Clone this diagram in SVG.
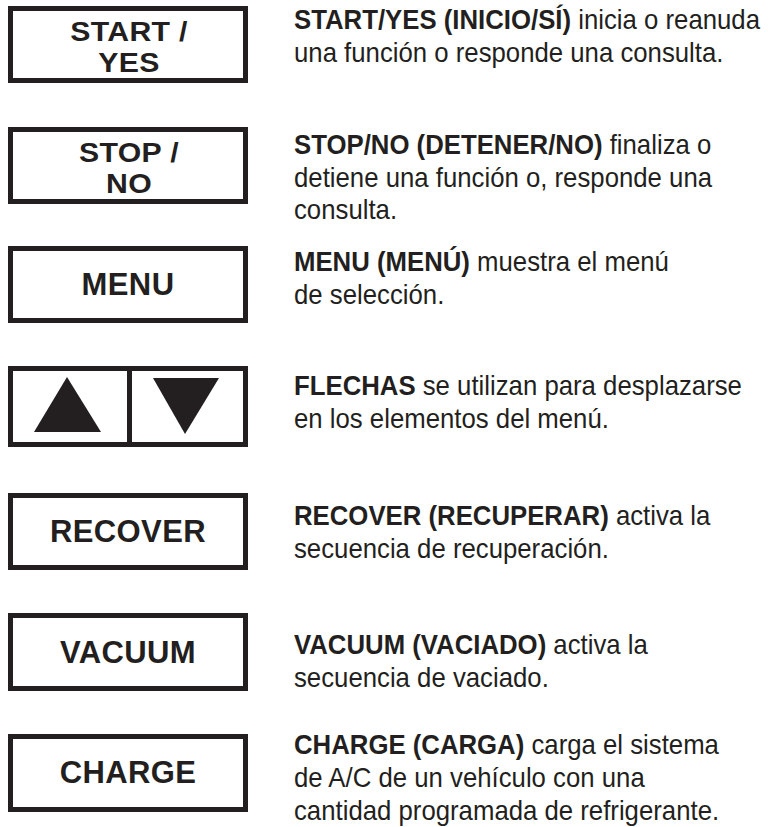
<svg xmlns="http://www.w3.org/2000/svg" width="776" height="827" viewBox="0 0 776 827">
<style>
.box{fill:#fff;stroke:#231f20;stroke-width:5}
.bt{font-family:"Liberation Sans",Arial,sans-serif;font-weight:bold;font-size:31px;letter-spacing:0.4px;fill:#231f20;text-anchor:middle}
.bt2{font-size:27px;letter-spacing:0.3px}
.d{font-family:"Liberation Sans",Arial,sans-serif;font-size:28px;fill:#231f20}
.b{font-weight:bold}
.tri{fill:#231f20}
</style>
<rect width="776" height="827" fill="#fff"/>
<g id="start">
<rect class="box" x="10.5" y="8.5" width="235" height="72"/>
<g transform="translate(129,0) scale(1.12,1)">
<text class="bt bt2" x="0" y="41">START /</text>
<text class="bt bt2" x="0" y="72">YES</text>
</g>
</g>
<g id="stop">
<rect class="box" x="10.5" y="129.5" width="235" height="72"/>
<g transform="translate(129,0) scale(1.12,1)">
<text class="bt bt2" x="0" y="162">STOP /</text>
<text class="bt bt2" x="0" y="193">NO</text>
</g>
</g>
<g id="menu">
<rect class="box" x="10.5" y="248.5" width="235" height="72"/>
<text class="bt" x="128" y="295">MENU</text>
</g>
<g id="arrows">
<rect class="box" x="10.5" y="368.5" width="235" height="76"/>
<line x1="129.5" y1="368" x2="129.5" y2="445" stroke="#231f20" stroke-width="5"/>
<polygon class="tri" points="67,377 34,432 101,432"/>
<polygon class="tri" points="153,378 219,378 185,434"/>
</g>
<g id="recover">
<rect class="box" x="10.5" y="495.5" width="235" height="72"/>
<text class="bt" x="128" y="542">RECOVER</text>
</g>
<g id="vacuum">
<rect class="box" x="10.5" y="615.5" width="235" height="73"/>
<text class="bt" x="128" y="663">VACUUM</text>
</g>
<g id="charge">
<rect class="box" x="10.5" y="736.5" width="235" height="73"/>
<text class="bt" x="128" y="783">CHARGE</text>
</g>
<g id="descriptions" transform="translate(294,0) scale(0.92,1)">
<text class="d" x="0" y="29"><tspan class="b">START/YES (INICIO/SÍ)</tspan> inicia o reanuda</text>
<text class="d" x="0" y="62">una función o responde una consulta.</text>
<text class="d" x="0" y="154"><tspan class="b">STOP/NO (DETENER/NO)</tspan> finaliza o</text>
<text class="d" x="0" y="187">detiene una función o, responde una</text>
<text class="d" x="0" y="219">consulta.</text>
<text class="d" x="0" y="271"><tspan class="b">MENU (MENÚ)</tspan> muestra el menú</text>
<text class="d" x="0" y="304">de selección.</text>
<text class="d" x="0" y="395"><tspan class="b">FLECHAS</tspan> se utilizan para desplazarse</text>
<text class="d" x="0" y="428">en los elementos del menú.</text>
<text class="d" x="0" y="525"><tspan class="b">RECOVER (RECUPERAR)</tspan> activa la</text>
<text class="d" x="0" y="558">secuencia de recuperación.</text>
<text class="d" x="0" y="654"><tspan class="b">VACUUM (VACIADO)</tspan> activa la</text>
<text class="d" x="0" y="687">secuencia de vaciado.</text>
<text class="d" x="0" y="754"><tspan class="b">CHARGE (CARGA)</tspan> carga el sistema</text>
<text class="d" x="0" y="787">de A/C de un vehículo con una</text>
<text class="d" x="0" y="820">cantidad programada de refrigerante.</text>
</g>
</svg>
